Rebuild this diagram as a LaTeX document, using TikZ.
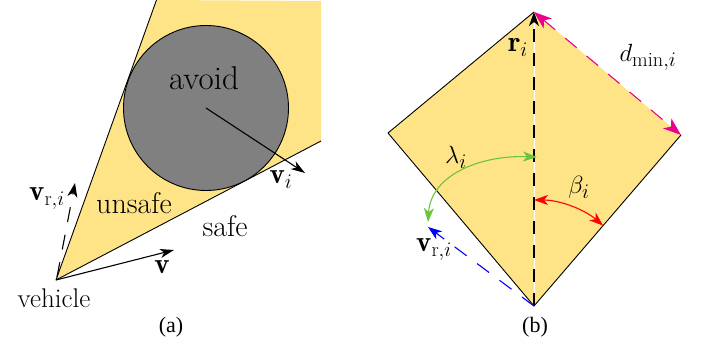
\documentclass[tikz,border=0pt]{standalone}
\usepackage{fontspec}
\newfontfamily\capfont{Liberation Serif}
\usetikzlibrary{arrows.meta}
\definecolor{zoneyellow}{RGB}{254,228,135}
\definecolor{avoidgray}{RGB}{128,128,128}
\definecolor{lamgreen}{RGB}{108,196,60}
\begin{document}
\begin{tikzpicture}[x=1pt,y=1pt,
  lbl/.style={inner sep=0pt, font=\fontsize{29}{34}\selectfont},
  txt/.style={inner sep=0pt, font=\fontsize{30}{35}\selectfont},
  captxt/.style={inner sep=0pt, font=\capfont\fontsize{22}{26}\selectfont},
  edge/.style={line width=0.9pt, line join=round},
  vec/.style={line width=1.1pt, -{Stealth[length=14pt,width=9pt,inset=4pt]}},
  dvec/.style={line width=1.1pt, dash pattern=on 15pt off 13pt},
  tipA/.style={-{Stealth[length=14pt,width=10pt,inset=4pt]}},
  tipB/.style={{Stealth[length=18pt,width=13pt,inset=5pt]}-{Stealth[length=18pt,width=13pt,inset=5pt]}},
  tipC/.style={{Stealth[length=14pt,width=10pt,inset=4pt]}-{Stealth[length=14pt,width=10pt,inset=4pt]}}]
\path[use as bounding box] (0,0) rectangle (702,347);

% ---------- panel (a) ----------
\coordinate (veh) at (56,67);
\coordinate (ltop) at (156.5,347);
\coordinate (rtop) at (321,346);
\coordinate (rend) at (321,206);
\fill[zoneyellow] (veh) -- (ltop) -- (rtop) -- (rend) -- cycle;
\draw[edge] (ltop) -- (veh) -- (rend);
\node[circle, fill=avoidgray, draw, line width=0.9pt, minimum size=165pt, inner sep=0pt] (obst) at (206,239) {};
\node[inner sep=0pt, font=\fontsize{33}{38}\selectfont] (avoid) at (204,269) {avoid};
\coordinate (vitip) at (305,174);
\draw[vec] (obst.center) -- (vitip);
\node[lbl] (vilab) at (281,167) {$\mathbf{v}_i$};
\coordinate (vrs) at (57,70);
\coordinate (vrt) at (75,164);
\draw[dvec, tipA] (vrs) -- (vrt);
\node[lbl] (vrlab) at (47,148) {$\mathbf{v}_{\mathrm{r},i}$};
\coordinate (vtip) at (174,97);
\draw[vec] (veh) -- (vtip);
\node[lbl] (vlab) at (162,80) {$\mathbf{v}$};
\node[txt] (unsafe) at (134,144) {unsafe};
\node[txt] (safe) at (225,121) {safe};
\node[inner sep=0pt, font=\fontsize{27}{32}\selectfont] (vehicle) at (54,49) {vehicle};
\node[captxt] (capa) at (171,20) {(a)};

% ---------- panel (b) ----------
\coordinate (T) at (534,335);
\coordinate (L) at (388,214);
\coordinate (R) at (681,212);
\coordinate (B) at (534,41);
\fill[zoneyellow] (T) -- (L) -- (B) -- (R) -- cycle;
\draw[edge] (R) -- (B) -- (L) -- (T);
\draw[white, line width=0.5pt] (B) -- (T);
\draw[line width=1.1pt, dash pattern=on 13pt off 11pt, tipA] (B) -- (T);
\draw[magenta, dvec, tipB] (T) -- (R);
\coordinate (vrb) at (428,120);
\draw[blue, dvec, tipA] (B) -- (vrb);
\coordinate (bs) at (534,147);
\draw[red, line width=1.1pt, tipC] (bs) arc[start angle=90, end angle=49.3, radius=106];
\coordinate (ls) at (428,125);
\coordinate (le) at (537,190);
\draw[lamgreen, line width=1.1pt, tipC] (ls) .. controls (431,172) and (480,192) .. (le);
\node[lbl] (rlab) at (518,300) {$\mathbf{r}_i$};
\node[lbl] (dlab) at (648,290) {$d_{\min,i}$};
\node[lbl] (lamlab) at (456,190) {$\lambda_i$};
\node[lbl] (betlab) at (579,160) {$\beta_i$};
\node[lbl] (vrlab2) at (434,97) {$\mathbf{v}_{\mathrm{r},i}$};
\node[captxt] (capb) at (535,20) {(b)};
\end{tikzpicture}
\end{document}
